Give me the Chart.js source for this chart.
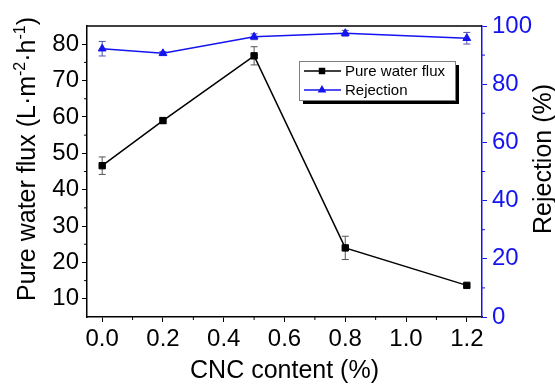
<!DOCTYPE html>
<html>
<head>
<meta charset="utf-8">
<script src="https://cdn.jsdelivr.net/npm/chart.js@4.4.0/dist/chart.umd.min.js"></script>
<style>
  body { margin: 0; background: #fff; }
  #wrap { width: 555px; height: 384px; }
</style>
</head>
<body>
<div id="wrap"><canvas id="myChart"></canvas></div>
<script>
// values
const cncContent = [0.0, 0.2, 0.5, 0.8, 1.2];
const fluxValues = [46.6, 59.0, 76.8, 24.0, 13.7];
const fluxErrors = [2.4, 0.8, 2.5, 3.2, 0.4];
const rejectionValues = [92.2, 90.6, 96.3, 97.5, 95.8];
const rejectionErrors = [2.5, 0.6, 1.0, 1.0, 2.0];

const xTicks = [0.0, 0.2, 0.4, 0.6, 0.8, 1.0, 1.2];
const xMinorTicks = [0.1, 0.3, 0.5, 0.7, 0.9, 1.1];
const fluxTicks = [10, 20, 30, 40, 50, 60, 70, 80];
const fluxMinorTicks = [15, 25, 35, 45, 55, 65, 75];
const rejectionTicks = [0, 20, 40, 60, 80, 100];
const rejectionMinorTicks = [10, 30, 50, 70, 90];

const FONT = "'Liberation Sans', Arial, sans-serif";
const BLUE = '#1414f0';

function toPoints(xs, ys) {
  return xs.map((x, i) => ({ x: x, y: ys[i] }));
}

function fixedTicks(list) {
  return function (scale) {
    scale.ticks = list.map(v => ({ value: v }));
  };
}

// vertical error bars with caps, drawn under the markers
const errorBars = {
  id: 'errorBars',
  beforeDatasetsDraw(chart) {
    const ctx = chart.ctx;
    chart.data.datasets.forEach((ds, i) => {
      const meta = chart.getDatasetMeta(i);
      const yScale = chart.scales[ds.yAxisID];
      ctx.save();
      ctx.strokeStyle = ds.errorColor;
      ctx.lineWidth = 1;
      meta.data.forEach((pt, j) => {
        const v = ds.data[j].y, e = ds.errors[j];
        const top = yScale.getPixelForValue(v + e);
        const bot = yScale.getPixelForValue(v - e);
        ctx.beginPath();
        ctx.moveTo(pt.x, top); ctx.lineTo(pt.x, bot);
        ctx.moveTo(pt.x - 3.5, top); ctx.lineTo(pt.x + 3.5, top);
        ctx.moveTo(pt.x - 3.5, bot); ctx.lineTo(pt.x + 3.5, bot);
        ctx.stroke();
      });
      ctx.restore();
    });
  }
};

// top border, minor ticks, axis titles and the boxed legend
const frame = {
  id: 'frame',
  afterDraw(chart) {
    const ctx = chart.ctx;
    const area = chart.chartArea;
    const sx = chart.scales.x, sy = chart.scales.y, sy2 = chart.scales.y2;
    ctx.save();

    ctx.strokeStyle = '#000';
    ctx.lineWidth = 1.5;
    ctx.beginPath();
    ctx.moveTo(area.left, area.top);
    ctx.lineTo(area.right, area.top);
    ctx.stroke();

    ctx.lineWidth = 1;
    ctx.beginPath();
    xMinorTicks.forEach(v => {
      const px = sx.getPixelForValue(v);
      ctx.moveTo(px, area.bottom); ctx.lineTo(px, area.bottom + 3);
    });
    fluxMinorTicks.forEach(v => {
      const py = sy.getPixelForValue(v);
      ctx.moveTo(area.left, py); ctx.lineTo(area.left - 3, py);
    });
    ctx.stroke();
    ctx.strokeStyle = BLUE;
    ctx.beginPath();
    rejectionMinorTicks.forEach(v => {
      const py = sy2.getPixelForValue(v);
      ctx.moveTo(area.right, py); ctx.lineTo(area.right + 3, py);
    });
    ctx.stroke();

    // axis titles
    ctx.fillStyle = '#000';
    ctx.font = '25px ' + FONT;
    ctx.textAlign = 'center';
    ctx.textBaseline = 'alphabetic';
    ctx.fillText('CNC content (%)', (area.left + area.right) / 2, 378);

    ctx.save();
    ctx.translate(551, 159);
    ctx.rotate(-Math.PI / 2);
    ctx.fillText('Rejection (%)', 0, 0);
    ctx.restore();

    // left title with superscripts
    const parts = [
      ['Pure water flux (L\u00b7m', false],
      ['-2', true],
      ['\u00b7h', false],
      ['-1', true],
      [')', false]
    ];
    const fontFor = sup => (sup ? '16px ' : '25px ') + FONT;
    let total = 0;
    parts.forEach(p => { ctx.font = fontFor(p[1]); total += ctx.measureText(p[0]).width; });
    ctx.save();
    ctx.translate(35, 159);
    ctx.rotate(-Math.PI / 2);
    ctx.textAlign = 'left';
    let cx = -total / 2;
    parts.forEach(p => {
      ctx.font = fontFor(p[1]);
      ctx.fillText(p[0], cx, p[1] ? -10 : 0);
      cx += ctx.measureText(p[0]).width;
    });
    ctx.restore();

    // legend
    const bx = area.left + 212, by = area.top + 35, bw = 156, bh = 39;
    ctx.fillStyle = '#000';
    ctx.fillRect(bx + 4, by + 4, bw, bh);
    ctx.fillStyle = '#fff';
    ctx.fillRect(bx, by, bw, bh);
    ctx.strokeStyle = '#808080';
    ctx.lineWidth = 1;
    ctx.strokeRect(bx + 0.5, by + 0.5, bw, bh);
    chart.data.datasets.forEach((ds, i) => {
      const cy = by + 10 + i * 19;
      ctx.strokeStyle = ds.borderColor;
      ctx.lineWidth = 1.5;
      ctx.beginPath();
      ctx.moveTo(bx + 5, cy); ctx.lineTo(bx + 42, cy);
      ctx.stroke();
      ctx.fillStyle = ds.pointBackgroundColor;
      ctx.strokeStyle = ds.borderColor;
      Chart.helpers.drawPoint(ctx, {
        pointStyle: ds.pointStyle, radius: 3.5, rotation: 0, borderWidth: 1
      }, bx + 23, cy);
      ctx.fillStyle = '#000';
      ctx.font = '15px ' + FONT;
      ctx.textAlign = 'left';
      ctx.textBaseline = 'middle';
      ctx.fillText(ds.label, bx + 46, cy + 1);
    });
    ctx.restore();
  }
};

const ctx = document.getElementById('myChart');

const chart = new Chart(ctx, {
  type: 'line',
  data: {
    datasets: [{
      label: 'Pure water flux',
      data: toPoints(cncContent, fluxValues),
      errors: fluxErrors,
      errorColor: '#555',
      yAxisID: 'y',
      borderColor: '#000',
      backgroundColor: '#000',
      pointBackgroundColor: '#000',
      borderWidth: 1.5,
      pointStyle: 'rect',
      pointRadius: 4.5,
      pointBorderWidth: 1,
      tension: 0
    }, {
      label: 'Rejection',
      data: toPoints(cncContent, rejectionValues),
      errors: rejectionErrors,
      errorColor: '#5050b0',
      yAxisID: 'y2',
      borderColor: BLUE,
      backgroundColor: BLUE,
      pointBackgroundColor: BLUE,
      borderWidth: 1.5,
      pointStyle: 'triangle',
      pointRadius: 4.5,
      pointBorderWidth: 1,
      tension: 0
    }]
  },
  options: {
    responsive: true,
    maintainAspectRatio: false,
    animation: false,
    layout: { padding: { top: 26 } },
    plugins: {
      legend: { display: false },
      tooltip: { enabled: false }
    },
    scales: {
      x: {
        type: 'linear',
        min: -0.05,
        max: 1.25,
        afterBuildTicks: fixedTicks(xTicks),
        afterFit: s => { s.height = 67; },
        grid: { drawOnChartArea: false, tickLength: 5, tickColor: '#000', tickWidth: 1 },
        border: { color: '#000', width: 1.5 },
        ticks: {
          color: '#000',
          font: { family: FONT, size: 24 },
          padding: 3,
          maxRotation: 0,
          callback: v => v.toFixed(1)
        }
      },
      y: {
        position: 'left',
        min: 5,
        max: 85,
        afterBuildTicks: fixedTicks(fluxTicks),
        afterFit: s => { s.width = 87; },
        grid: { drawOnChartArea: false, tickLength: 5, tickColor: '#000', tickWidth: 1 },
        border: { color: '#000', width: 1.5 },
        ticks: { color: '#000', font: { family: FONT, size: 24 }, padding: 3 }
      },
      y2: {
        position: 'right',
        min: 0,
        max: 100,
        afterBuildTicks: fixedTicks(rejectionTicks),
        afterFit: s => { s.width = 73; },
        grid: { drawOnChartArea: false, tickLength: 5, tickColor: BLUE, tickWidth: 1 },
        border: { color: BLUE, width: 1.5 },
        ticks: { color: BLUE, font: { family: FONT, size: 24 }, padding: 5 }
      }
    }
  },
  plugins: [errorBars, frame]
});
</script>
</body>
</html>
